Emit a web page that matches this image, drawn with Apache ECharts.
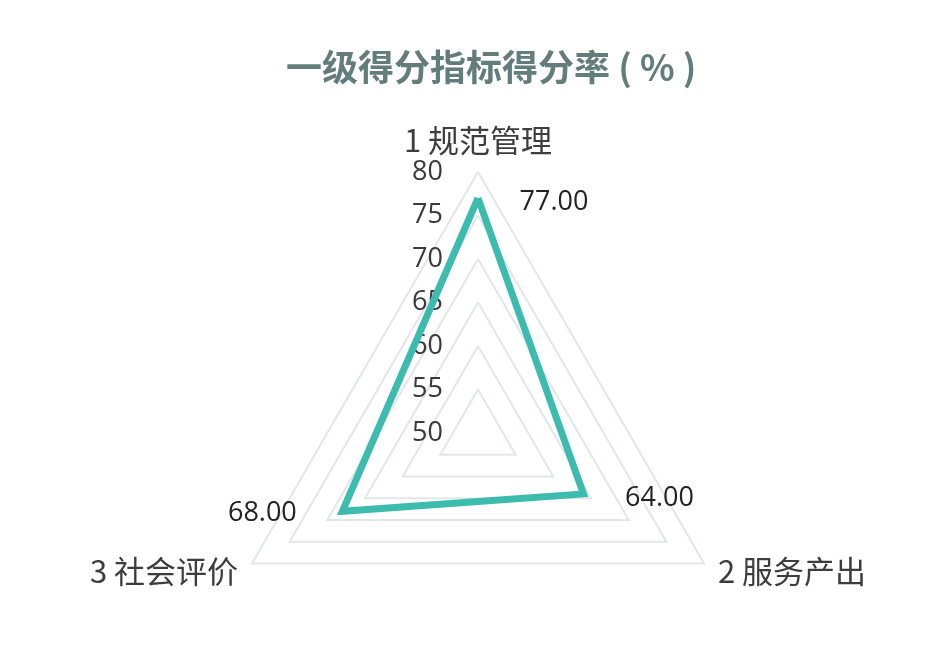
<!DOCTYPE html>
<html>
<head>
<meta charset="utf-8">
<script src="https://cdn.jsdelivr.net/npm/echarts@6/dist/echarts.min.js"></script>
<style>html,body{margin:0;padding:0;background:#fff;}#c{width:927px;height:649px;}</style>
</head>
<body>
<div id="c"></div>
<script>
const titleText = '一级得分指标得分率 ( % )';
const indicatorNames = ['1 规范管理', '2 服务产出', '3 社会评价'];
const values = [77, 64, 68];
const axisMin = 50;
const axisMax = 80;

// ECharts radar runs counter-clockwise; reorder so the chart reads clockwise
const order = [0, 2, 1];
const leftLabelIdx = 2; // "3 社会评价" value label sits on the left

const chart = echarts.init(document.getElementById('c'));
const indicators = order.map((k, i) => {
  const o = { name: indicatorNames[k], min: axisMin, max: axisMax };
  if (i === 0) o.axisLabel = { show: true, fontSize: 27, color: '#3a3a3a', margin: 35 };
  return o;
});
chart.setOption({
  backgroundColor: '#fff',
  title: {
    text: titleText, left: 281, top: 44,
    textStyle: { fontFamily: 'Noto Sans CJK SC', fontSize: 36, fontWeight: 'bold', color: '#627d7c' }
  },
  radar: {
    center: [478, 433], radius: 261, startAngle: 90, shape: 'polygon',
    splitNumber: 6,
    indicator: indicators,
    axisName: { color: '#3d3d3d', fontSize: 31, fontFamily: 'Noto Sans CJK SC' },
    nameGap: 16,
    axisLine: { show: false },
    axisTick: { show: false },
    splitArea: { show: false },
    splitLine: { lineStyle: { color: '#e3e7e7', width: 2 } },
    axisLabel: { show: false, color: '#3a3a3a', fontSize: 27, margin: 35, fontFamily: 'Open Sans' }
  },
  series: [{
    type: 'radar',
    symbol: 'circle',
    symbolSize: 2,
    itemStyle: { color: 'rgba(0,0,0,0)', borderWidth: 0 },
    lineStyle: { color: '#3cbcae', width: 7, join: 'miter' },
    label: {
      show: true, position: 'inside', color: '#222', fontSize: 27, fontFamily: 'Open Sans',
      formatter: p => {
        const txt = Number(p.value).toFixed(2);
        const k = order[p.dimensionIndex];
        return k === leftLabelIdx ? '{l|' + txt + '}' : '{r|' + txt + '}';
      },
      rich: {
        l: { color: '#222', fontSize: 27, fontFamily: 'Open Sans', padding: [4, 160, 0, 0] },
        r: { color: '#222', fontSize: 27, fontFamily: 'Open Sans', padding: [8, 0, 0, 152] }
      }
    },
    data: [{ value: order.map(k => values[k]) }]
  }]
});
</script>
</body>
</html>
